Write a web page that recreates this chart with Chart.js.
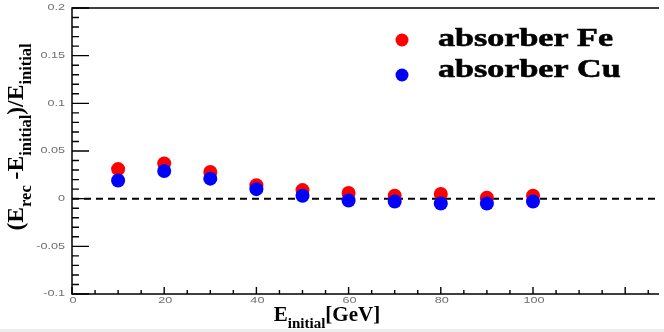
<!DOCTYPE html>
<html>
<head>
<meta charset="utf-8">
<script src="https://cdn.jsdelivr.net/npm/chart.js@4.4.0/dist/chart.umd.min.js"></script>
<style>
  html, body { margin: 0; padding: 0; background: #fff; overflow: hidden; }
  #wrap { width: 664px; height: 332px; position: relative; }
</style>
</head>
<body>
<div id="wrap"><canvas id="chart" width="664" height="332"></canvas></div>
<script>
// energies in GeV
const energies = [10, 20, 30, 40, 50, 60, 70, 80, 90, 100];
const resFe = [0.031, 0.037, 0.028, 0.014, 0.009, 0.006, 0.003, 0.005, 0.001, 0.003];
const resCu = [0.019, 0.029, 0.021, 0.010, 0.003, -0.002, -0.003, -0.005, -0.005, -0.003];
const seriesNames = ['absorber Fe', 'absorber Cu'];
const seriesColors = ['#ff0000', '#0000ff'];
const yTicks = [-0.1, -0.05, 0, 0.05, 0.1, 0.15, 0.2];
const yTickLabels = ['-0.1', '-0.05', '0', '0.05', '0.1', '0.15', '0.2'];
const xTicks = [0, 20, 40, 60, 80, 100];
const xTickLabels = ['0', '20', '40', '60', '80', '100'];

const toPoints = (vals) => energies.map((e, i) => ({ x: e, y: vals[i] }));

function drawText(ctx, str, x, y, font, align, sx, sy, stroke) {
    ctx.save();
    ctx.translate(x, y);
    ctx.scale(sx || 1, sy || 1);
    ctx.font = font;
    ctx.textAlign = align || 'left';
    ctx.fillText(str, 0, 0);
    if (stroke) {
        ctx.strokeStyle = ctx.fillStyle;
        ctx.lineWidth = stroke;
        ctx.strokeText(str, 0, 0);
    }
    ctx.restore();
}

// ROOT-like frame: inward ticks, dashed zero line, titles, legend
const rootStyle = {
    id: 'rootStyle',
    beforeDraw(chart) {
        const ctx = chart.ctx;
        ctx.save();
        ctx.fillStyle = '#fff';
        ctx.fillRect(0, 0, chart.width, chart.height);
        ctx.fillStyle = '#ececec';
        ctx.fillRect(0, 329, chart.width, 3);
        ctx.restore();
    },
    beforeDatasetsDraw(chart) {
        const ctx = chart.ctx;
        const { left, right, top, bottom } = chart.chartArea;
        const xs = chart.scales.x, ys = chart.scales.y;
        ctx.save();
        // zero line
        ctx.strokeStyle = '#000';
        ctx.lineWidth = 2;
        ctx.setLineDash([7, 5]);
        const y0 = ys.getPixelForValue(0);
        ctx.beginPath();
        ctx.moveTo(left, y0);
        ctx.lineTo(right, y0);
        ctx.stroke();
        ctx.setLineDash([]);

        // frame
        ctx.lineWidth = 1.5;
        ctx.beginPath();
        ctx.moveTo(right + 2, top);
        ctx.lineTo(left, top);
        ctx.lineTo(left, bottom);
        ctx.lineTo(right + 2, bottom);
        ctx.stroke();

        // y ticks
        ctx.lineWidth = 1.4;
        ctx.beginPath();
        for (let i = 0; i <= 30; i++) {
            const v = -0.1 + i * 0.01;
            const p = ys.getPixelForValue(v);
            const len = (i % 5 === 0) ? 17 : 7;
            ctx.moveTo(left, p);
            ctx.lineTo(left + len, p);
        }
        // x ticks
        for (let v = 0; v <= 125; v += 5) {
            const p = xs.getPixelForValue(v);
            const len = (v % 20 === 0) ? 7 : 4;
            ctx.moveTo(p, bottom);
            ctx.lineTo(p, bottom - len);
        }
        ctx.stroke();

        // tick labels
        ctx.fillStyle = '#707070';
        ctx.textBaseline = 'middle';
        yTicks.forEach((v, i) => {
            drawText(ctx, yTickLabels[i], 65, ys.getPixelForValue(v), '11px "Liberation Sans"', 'right', 1.15, 0.8);
        });
        xTicks.forEach((v, i) => {
            drawText(ctx, xTickLabels[i], xs.getPixelForValue(v) + 1, bottom + 7, '11px "Liberation Sans"', 'center', 1.15, 0.8);
        });
        ctx.restore();
    },
    afterDraw(chart) {
        const ctx = chart.ctx;
        ctx.save();
        ctx.fillStyle = '#000';
        ctx.textBaseline = 'alphabetic';

        // x title
        const big = 'bold 21px "Liberation Serif"';
        const sub = 'bold 15px "Liberation Serif"';
        const xParts = [['E', big, 0], ['initial', sub, 7], ['[GeV]', big, 0]];
        let w = 0;
        xParts.forEach(p => { ctx.font = p[1]; w += ctx.measureText(p[0]).width; });
        let x = 327 - w / 2;
        xParts.forEach(p => {
            ctx.font = p[1];
            ctx.fillText(p[0], x, 321 + p[2]);
            x += ctx.measureText(p[0]).width;
        });

        // y title (rotated)
        const bigY = 'bold 23px "Liberation Serif"';
        const subY = 'bold 16px "Liberation Serif"';
        const yParts = [['(E', bigY, 0], ['rec', subY, 8], [' -E', bigY, 0], ['initial', subY, 8],
                        [')/E', bigY, 0], ['initial', subY, 8]];
        w = 0;
        yParts.forEach(p => { ctx.font = p[1]; w += ctx.measureText(p[0]).width; });
        ctx.translate(23, 137);
        ctx.rotate(-Math.PI / 2);
        ctx.scale(187 / w, 1);
        x = -w / 2;
        yParts.forEach(p => {
            ctx.font = p[1];
            ctx.fillText(p[0], x, p[2]);
            x += ctx.measureText(p[0]).width;
        });
        ctx.restore();

        // legend
        ctx.save();
        const legFont = 'bold 26px "Liberation Serif"';
        ctx.font = legFont;
        const lw = ctx.measureText(seriesNames[0]).width;
        const sx = 175 / lw;
        const rows = [[40, 46], [75, 77]];
        chart.data.datasets.forEach((ds, i) => {
            ctx.fillStyle = ds.backgroundColor;
            ctx.beginPath();
            ctx.arc(402, rows[i][0], 6.5, 0, Math.PI * 2);
            ctx.fill();
            ctx.fillStyle = '#000';
            drawText(ctx, ds.label, 438, rows[i][1], legFont, 'left', sx, 1, 0.6);
        });
        ctx.restore();
    }
};

new Chart(document.getElementById('chart'), {
    type: 'scatter',
    data: {
        datasets: [
            {
                label: seriesNames[0],
                data: toPoints(resFe),
                backgroundColor: seriesColors[0],
                borderColor: seriesColors[0],
                pointRadius: 7,
                pointBorderWidth: 0,
                order: 2
            },
            {
                label: seriesNames[1],
                data: toPoints(resCu),
                backgroundColor: seriesColors[1],
                borderColor: seriesColors[1],
                pointRadius: 7,
                pointBorderWidth: 0,
                order: 1
            }
        ]
    },
    options: {
        responsive: false,
        animation: false,
        layout: { padding: { left: 72, top: 8, right: 0, bottom: 38 } },
        scales: {
            x: { type: 'linear', min: 0, max: 126.9, display: false },
            y: { type: 'linear', min: -0.1, max: 0.2, display: false }
        },
        plugins: {
            legend: { display: false },
            tooltip: { enabled: false }
        }
    },
    plugins: [rootStyle]
});
</script>
</body>
</html>
